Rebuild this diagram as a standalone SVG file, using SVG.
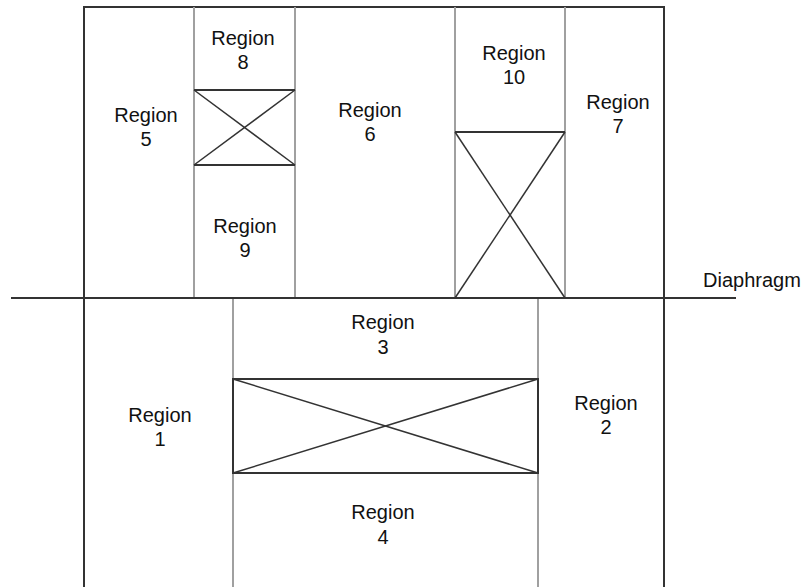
<svg xmlns="http://www.w3.org/2000/svg" width="806" height="587" viewBox="0 0 806 587">
<style>
.dark{stroke:#333;stroke-width:2;fill:none}
.gray{stroke:#a0a0a0;stroke-width:2;fill:none}
.x{stroke:#333;stroke-width:1.5;fill:none}
text{font-family:"Liberation Sans",Arial,sans-serif;font-size:20px;fill:#111;text-anchor:middle}
</style>
<rect width="806" height="587" fill="#fff"/>
<g id="frame">
<path class="dark" d="M84,587 V7 H664 V587"/>
</g>
<g id="connectors">
<line class="gray" x1="194" y1="7" x2="194" y2="298"/>
<line class="gray" x1="295" y1="7" x2="295" y2="298"/>
<line class="gray" x1="455" y1="7" x2="455" y2="298"/>
<line class="gray" x1="565" y1="7" x2="565" y2="298"/>
<line class="gray" x1="233" y1="298" x2="233" y2="587"/>
<line class="gray" x1="538" y1="298" x2="538" y2="587"/>
</g>
<g id="cross-8-9">
<line class="dark" x1="194" y1="90" x2="295" y2="90"/>
<line class="dark" x1="194" y1="165" x2="295" y2="165"/>
<line class="x" x1="194" y1="90" x2="295" y2="165"/>
<line class="x" x1="295" y1="90" x2="194" y2="165"/>
</g>
<g id="cross-10">
<line class="dark" x1="455" y1="132" x2="565" y2="132"/>
<line class="x" x1="455" y1="132" x2="565" y2="298"/>
<line class="x" x1="565" y1="132" x2="455" y2="298"/>
</g>
<g id="cross-3-4">
<rect class="dark" x="233" y="379" width="305" height="94"/>
<line class="x" x1="233" y1="379" x2="538" y2="473"/>
<line class="x" x1="538" y1="379" x2="233" y2="473"/>
</g>
<g id="diaphragm">
<line class="dark" x1="11" y1="298" x2="736" y2="298"/>
<text x="703" y="287" style="text-anchor:start">Diaphragm</text>
</g>
<g id="region5"><text x="146" y="122">Region</text><text x="146" y="146">5</text></g>
<g id="region8"><text x="243" y="45">Region</text><text x="243" y="69">8</text></g>
<g id="region9"><text x="245" y="233">Region</text><text x="245" y="257">9</text></g>
<g id="region6"><text x="370" y="117">Region</text><text x="370" y="141">6</text></g>
<g id="region10"><text x="514" y="60">Region</text><text x="514" y="84">10</text></g>
<g id="region7"><text x="618" y="109">Region</text><text x="618" y="133">7</text></g>
<g id="region3"><text x="383" y="329">Region</text><text x="383" y="354">3</text></g>
<g id="region4"><text x="383" y="519">Region</text><text x="383" y="544">4</text></g>
<g id="region1"><text x="160" y="422">Region</text><text x="160" y="446">1</text></g>
<g id="region2"><text x="606" y="410">Region</text><text x="606" y="434">2</text></g>
</svg>
